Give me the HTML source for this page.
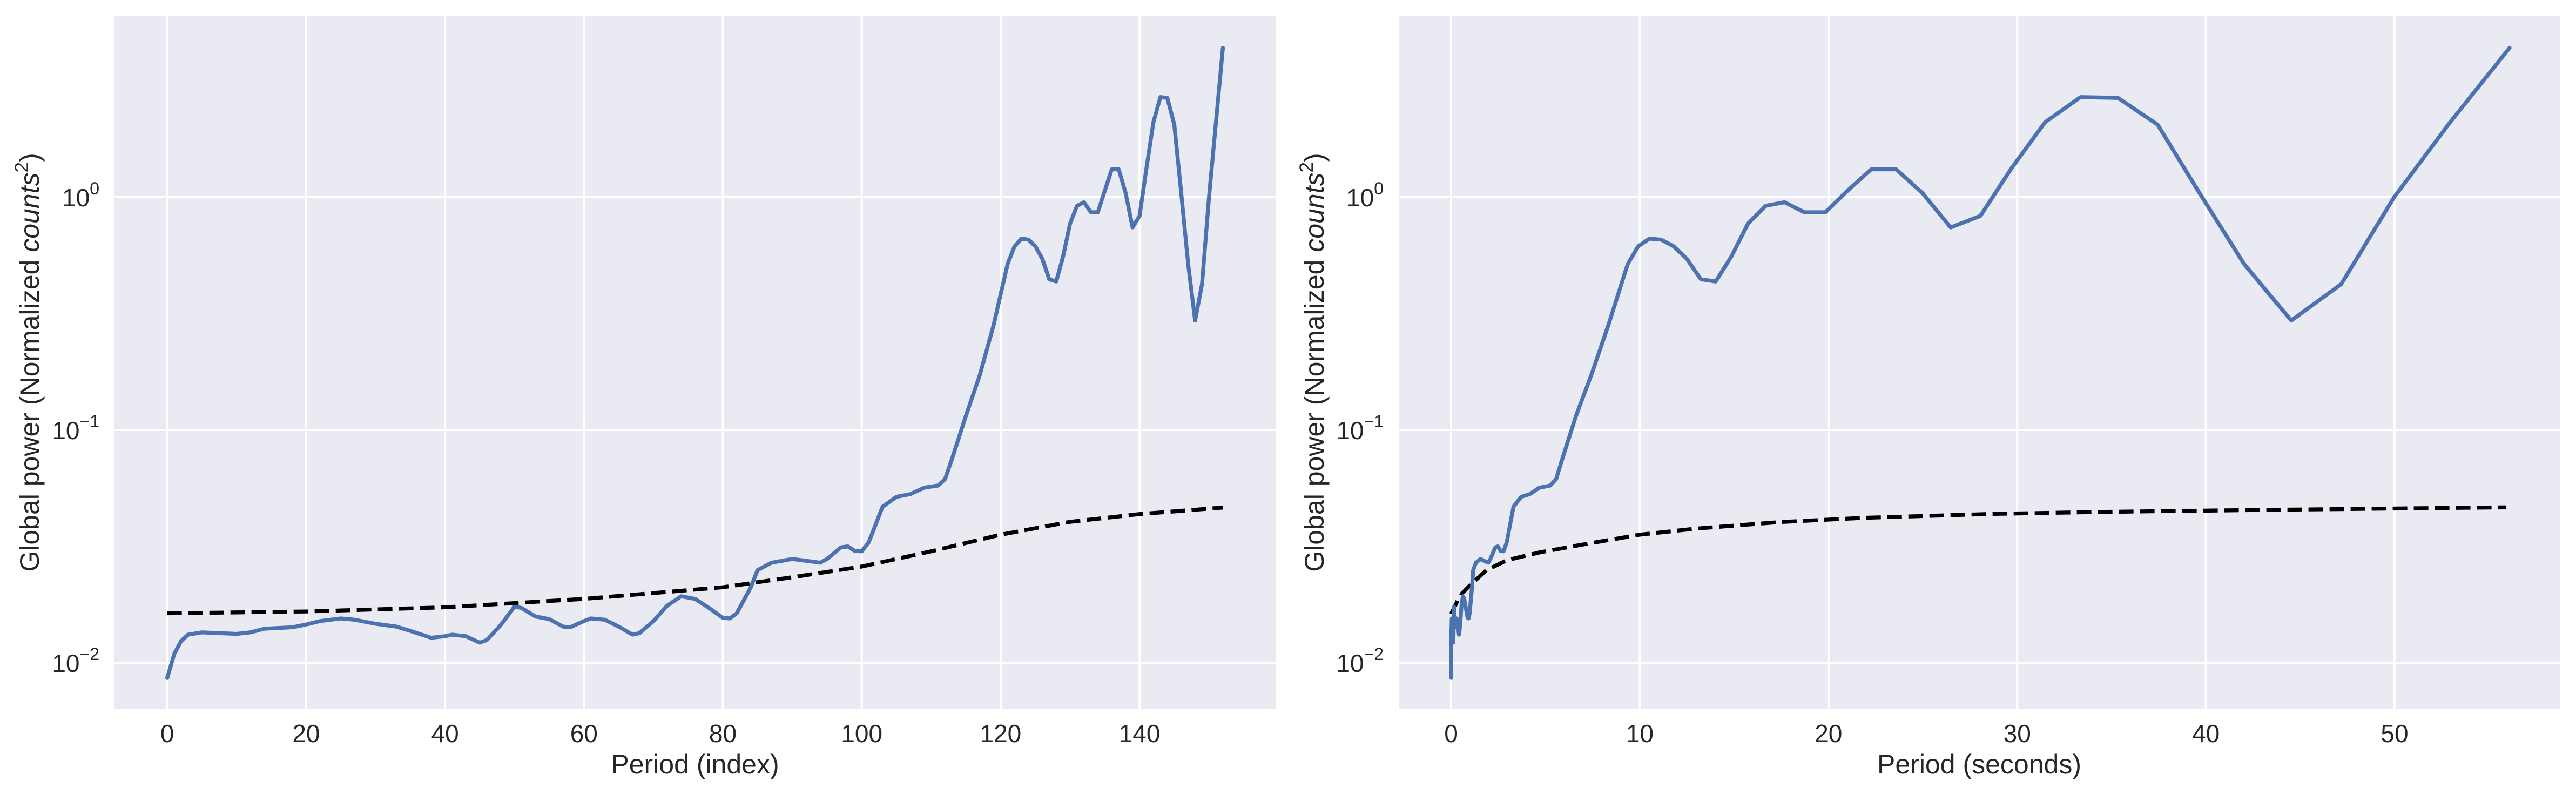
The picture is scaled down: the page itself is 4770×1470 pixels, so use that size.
<!DOCTYPE html>
<html><head><meta charset="utf-8"><style>
html,body{margin:0;padding:0;background:#fff;}
svg{display:block;font-family:"Liberation Sans",Arial,sans-serif;}
</style></head><body>
<svg id="chart" width="4770" height="1470" viewBox="0 0 4770 1470" xmlns="http://www.w3.org/2000/svg"></svg>
<script>
// ---- data ----
const powerIdx = [0,1,2,3,5,10,12,14,16,18,20,22,25,27,30,33,35,38,40,41,43,45,46,48,50,51,53,55,57,58,60,61,63,65,67,68,70,72,74,76,78,80,81,82,84,85,87,90,92,94,95,97,98,99,100,101,103,104,105,107,109,111,112,113,115,117,119,121,122,123,124,125,126,127,128,129,130,131,132,133,134,135,136,137,138,139,140,141,142,143,144,145,146,147,148,149,150,151,152];
const powerVal = [0.0086,0.0109,0.0124,0.0132,0.0135,0.0133,0.0135,0.0140,0.0141,0.0142,0.0146,0.0151,0.0155,0.0153,0.0147,0.0143,0.0137,0.0128,0.0130,0.0132,0.0130,0.0122,0.0125,0.0145,0.0174,0.0172,0.0158,0.0154,0.0143,0.0142,0.0151,0.0155,0.0153,0.0143,0.0132,0.0134,0.0151,0.0176,0.0193,0.0188,0.0172,0.0156,0.0155,0.0163,0.0210,0.0250,0.0269,0.0279,0.0274,0.0269,0.0279,0.0313,0.0316,0.0302,0.0301,0.0329,0.0468,0.0491,0.0516,0.0530,0.0565,0.0577,0.0615,0.0752,0.115,0.172,0.283,0.516,0.615,0.663,0.657,0.615,0.543,0.444,0.434,0.557,0.771,0.918,0.951,0.861,0.861,1.067,1.317,1.317,1.04,0.741,0.831,1.337,2.10,2.69,2.67,2.05,1.04,0.516,0.295,0.423,1.0,2.1,4.38];
const sigIdx = [0,20,40,60,80,90,100,110,120,130,140,152];
const sigVal = [0.0163,0.0166,0.0173,0.0188,0.0211,0.0233,0.0259,0.0301,0.0355,0.0403,0.0435,0.0464];
const sigPeriod = [0,0.35,0.57,1.0,1.88,2.97,4.71,6.89,10.0,13.0,17.4,21.8,28.7,34.8,43.6,55.9];
const sigPeriodVal = [0.0162,0.0185,0.0198,0.0215,0.0250,0.0276,0.0298,0.0321,0.0355,0.0377,0.0402,0.0419,0.0436,0.0445,0.0454,0.0465];
const periodMax = 56.1;
const periodDj = 1/12;
const leftTicks = [0,20,40,60,80,100,120,140];
const rightTicks = [0,10,20,30,40,50];
const yTickExps = [0,-1,-2];

const NS="http://www.w3.org/2000/svg";
const svg=document.getElementById('chart');
function mk(tag,attrs,parent){const e=document.createElementNS(NS,tag);for(const k in attrs)e.setAttribute(k,attrs[k]);(parent||svg).appendChild(e);return e;}

const yTop=30, yBot=1312;
function yScale(v){return 365-431*Math.log10(v);}

function panel(opts){
  const g=mk('g',{});
  
  
  const bg=mk('rect',{x:opts.x0,y:yTop,width:opts.x1-opts.x0,height:yBot-yTop,fill:'#eaeaf2'},g);
  
  
  opts.ticks.forEach(t=>{
    const x=opts.xs(t);
    const l=mk('line',{x1:x,x2:x,y1:yTop,y2:yBot,stroke:'#fff','stroke-width':4},g);
    
    
    const tx=mk('text',{x:x,y:1374,'font-size':46,fill:'#262626','text-anchor':'middle'},g);
    tx.textContent=t;
    
    
  });
  yTickExps.forEach(e=>{
    const y=yScale(Math.pow(10,e));
    const l=mk('line',{x1:opts.x0,x2:opts.x1,y1:y,y2:y,stroke:'#fff','stroke-width':4},g);
    
    
    const tx=mk('text',{x:opts.x0-28,y:y+17,'font-size':46,fill:'#262626','text-anchor':'end'},g);
    
    
    const b=mk('tspan',{},tx);b.textContent='10';
    const s=mk('tspan',{dy:-22,'font-size':32},tx);s.textContent=(e<0?'\u2212':'')+Math.abs(e);
  });
  const dp=opts.sigX.map((x,i)=>opts.xs(x).toFixed(1)+','+yScale(opts.sigY[i]).toFixed(1)).join(' ');
  const sig=mk('polyline',{points:dp,fill:'none',stroke:'#000','stroke-width':7.3,'stroke-dasharray':'27,12'},g);
  
  
  const pp=opts.pX.map((x,i)=>opts.xs(x).toFixed(1)+','+yScale(powerVal[i]).toFixed(1)).join(' ');
  const pw=mk('polyline',{points:pp,fill:'none',stroke:'#4c72b0','stroke-width':7.3,'stroke-linejoin':'round','stroke-linecap':'round'},g);
  
  
  const xl=mk('text',{x:(opts.x0+opts.x1)/2,y:1432,'font-size':50,fill:'#262626','text-anchor':'middle'},g);
  xl.textContent=opts.xlabel;
  
  
  const cy=(yTop+yBot)/2, cx=opts.ylabX;
  const yl=mk('text',{x:cx,y:cy,'font-size':50,fill:'#262626','text-anchor':'middle',transform:'rotate(-90 '+cx+' '+cy+')'},g);
  
  
  const a=mk('tspan',{},yl);a.textContent='Global power (Normalized ';
  const b=mk('tspan',{'font-style':'italic'},yl);b.textContent='counts';
  const c=mk('tspan',{dy:-20,'font-size':35},yl);c.textContent='2';
  const d=mk('tspan',{dy:20},yl);d.textContent=')';
}

panel({name:'left-panel-index',x0:212,x1:2362,xs:v=>309.7+12.86*v,ticks:leftTicks,
  sigX:sigIdx,sigY:sigVal,pX:powerIdx,xlabel:'Period (index)',ylabX:72});
const periods=powerIdx.map(i=>periodMax*Math.pow(2,(i-152)*periodDj));
panel({name:'right-panel-seconds',x0:2590,x1:4740,xs:v=>2687+34.94*v,ticks:rightTicks,
  sigX:sigPeriod,sigY:sigPeriodVal,pX:periods,xlabel:'Period (seconds)',ylabX:2451});
</script>
</body></html>
